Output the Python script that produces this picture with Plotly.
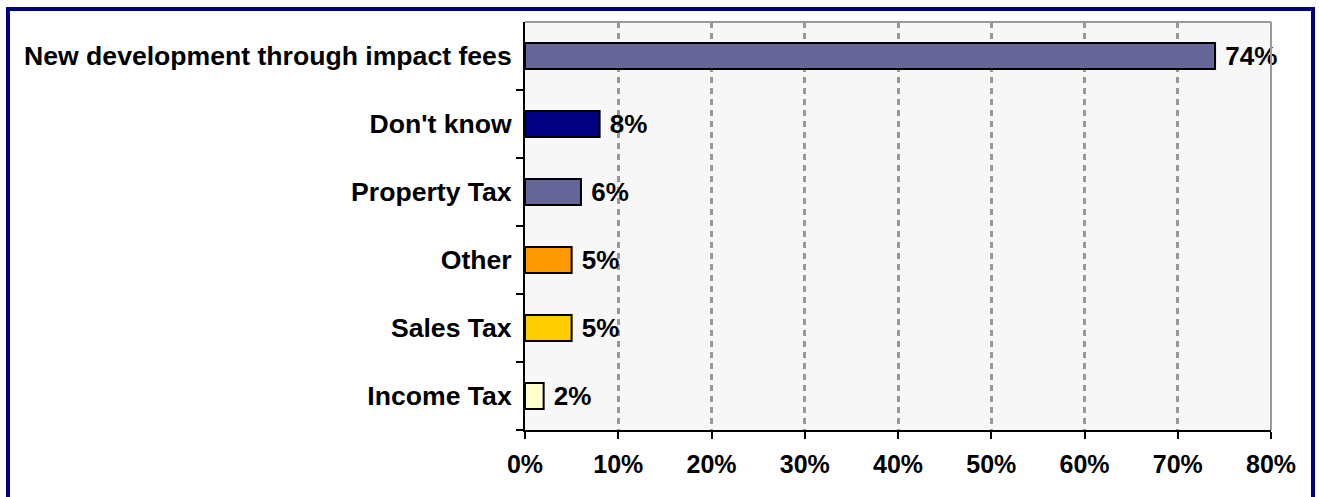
import plotly.graph_objects as go

categories = ["New development through impact fees", "Don't know", "Property Tax", "Other", "Sales Tax", "Income Tax"]
values = [74, 8, 6, 5, 5, 2]
colors = ["#666699", "#000080", "#666699", "#FF9900", "#FFCC00", "#FFFFCC"]
x_ticks = [0, 10, 20, 30, 40, 50, 60, 70, 80]
x_labels = [f"{v}%" for v in x_ticks]

FONT = "Liberation Sans, Arial, sans-serif"

fig = go.Figure()
fig.add_trace(go.Bar(
    y=categories, x=values, orientation="h",
    marker=dict(color=colors, line=dict(color="black", width=2)),
    width=0.38,
    text=[f"<b> {v}%</b>" for v in values], textposition="outside",
    textfont=dict(family=FONT, size=26, color="black"),
    constraintext="none",
    cliponaxis=False,
))

fig.update_layout(
    width=1319, height=497,
    margin=dict(l=525, r=48, t=22, b=67),
    paper_bgcolor="white", plot_bgcolor="#F7F7F7",
    showlegend=False,
    font=dict(family=FONT, size=26, color="black"),
    xaxis=dict(range=[0, 80], tickvals=x_ticks, ticktext=[f"<b>{t}</b>" for t in x_labels],
               showgrid=True, gridcolor="#999999", griddash="6px,5px", gridwidth=3,
               showline=True, linecolor="black", linewidth=2,
               ticks="outside", ticklen=7, tickwidth=2, tickcolor="black",
               ticklabelstandoff=4,
               tickfont=dict(family=FONT, size=25, color="black"),
               zeroline=False, fixedrange=True),
    yaxis=dict(categoryorder="array", categoryarray=categories[::-1],
               showline=True, linecolor="black", linewidth=2,
               ticks="outside", ticklen=7, tickwidth=2, tickcolor="black", tickson="boundaries",
               ticklabelstandoff=6,
               showgrid=False, ticktext=[f"<b>{c}</b>" for c in categories], tickvals=categories,
               tickfont=dict(family=FONT, size=26.6, color="black"), fixedrange=True),
    bargap=0.62,
    shapes=[
        dict(type="line", xref="paper", yref="paper", x0=0, x1=1, y0=1, y1=1,
             line=dict(color="#999999", width=2)),
        dict(type="line", xref="paper", yref="paper", x0=1, x1=1, y0=0, y1=1,
             line=dict(color="#999999", width=2)),
        dict(type="rect", xref="paper", yref="paper",
             x0=-517/746, x1=1+42/746, y0=-0.3, y1=1+13/408,
             line=dict(color="#000080", width=4), fillcolor="rgba(0,0,0,0)", layer="below"),
    ],
)

fig.write_html("out.html", config={"displayModeBar": False},
               post_script="document.body.style.margin='0';document.body.style.padding='0';")
